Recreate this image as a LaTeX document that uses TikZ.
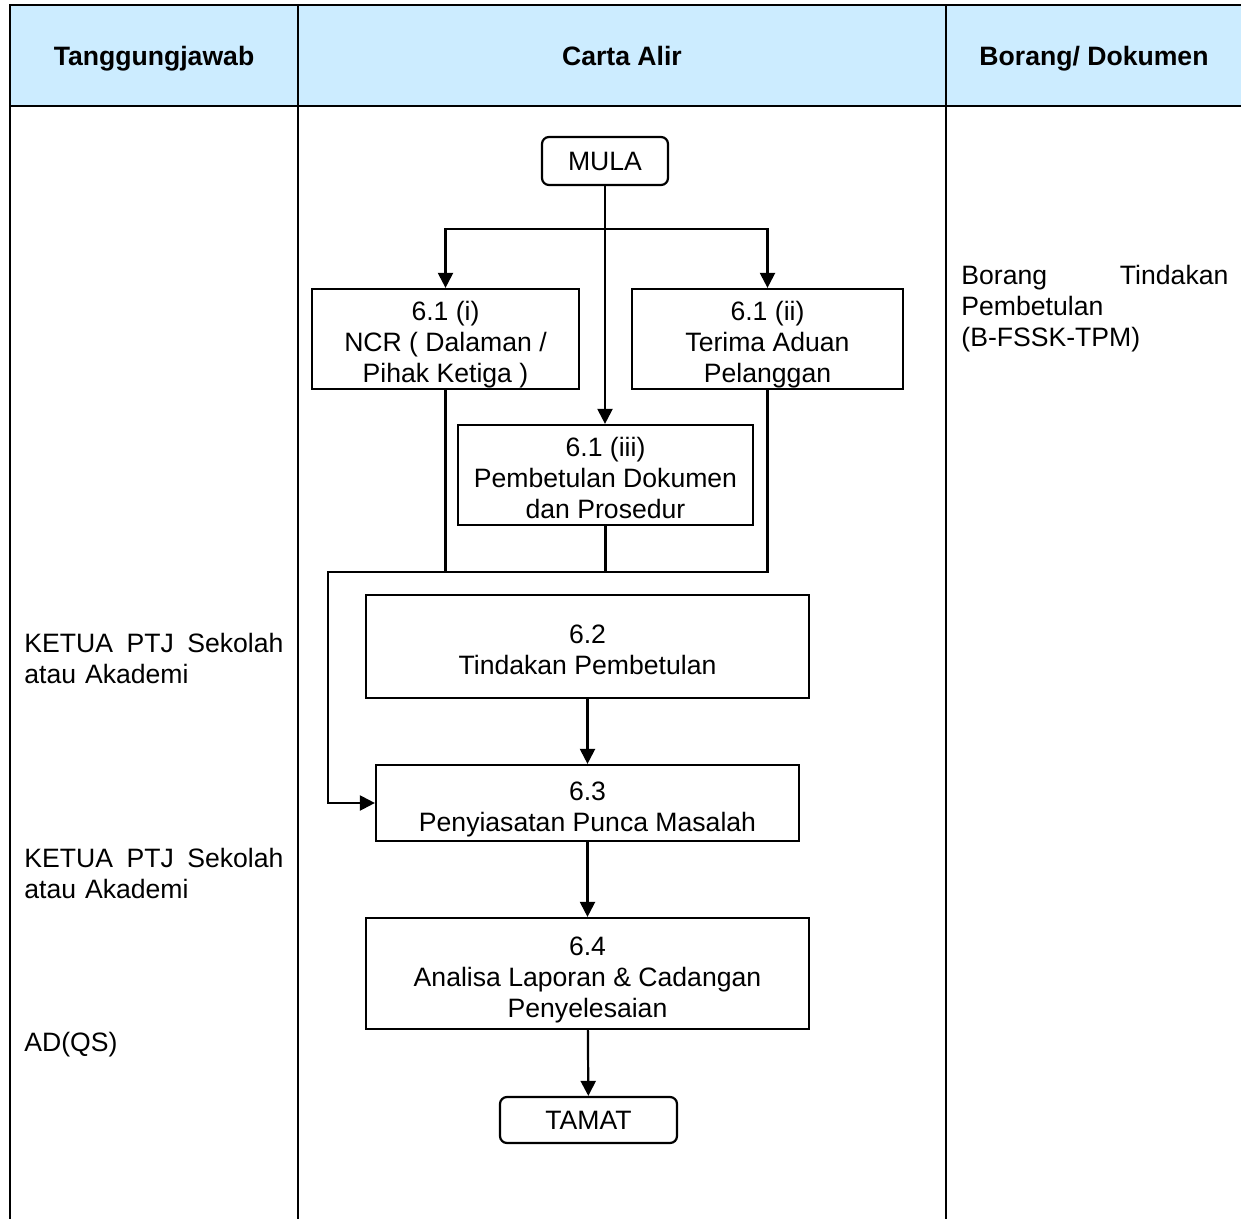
\documentclass[tikz,border=0pt]{standalone}
\usepackage{fontspec}
\setmainfont{Liberation Sans}
\usetikzlibrary{arrows.meta}
\definecolor{headblue}{HTML}{CCECFF}
% struts that fix the height of a box's first line and the depth of its last line
\newcommand\topstrut{\rule{0pt}{15.5pt}}
\newcommand\botstrut{\rule[-3pt]{0pt}{3pt}}
\begin{document}
\begin{tikzpicture}[x=0.5pt,y=-0.5pt,
  every node/.style={font=\fontsize{13.3}{15.5}\selectfont, inner sep=0pt},
  grid/.style={line width=1.4pt},
  box/.style={draw, line width=1.1pt, align=center},
  term/.style={draw, line width=1.1pt, align=center, rounded corners=3.5pt},
  arr/.style={line width=1.1pt, -{Triangle[width=7.5pt,length=7.5pt]}},
  link/.style={line width=1.1pt},
  cell/.style={align=left, anchor=base west},
  head/.style={font=\fontsize{13.3}{15.5}\selectfont\bfseries, anchor=base}]

\useasboundingbox (0,0) rectangle (1241,1219);

% table frame and header band
\fill[headblue] (10,5) rectangle (1241,106);
\draw[grid] (1241,5) -- (10,5) -- (10,1219);
\draw[grid] (10,106) -- (1241,106);
\draw[grid] (298,5) -- (298,1219);
\draw[grid] (946,5) -- (946,1219);

\node[head] (h1) at (154,65.5) {Tanggungjawab};
\node[head] (h2) at (622,65.5) {Carta Alir};
\node[head] (h3) at (1094,65.5) {Borang/ Dokumen};

% responsibility column
\node[cell, text width=129.5pt] (r1) at (24,652.5) {KETUA\hfill PTJ\hfill Sekolah\\atau Akademi};
\node[cell, text width=129.5pt] (r2) at (24,867.5) {KETUA\hfill PTJ\hfill Sekolah\\atau Akademi};
\node[cell] (r3) at (24,1051.5) {AD(QS)};

% form column
\node[cell, text width=133.5pt] (docs) at (961,284.5) {Borang\hfill Tindakan\\Pembetulan\\(B-FSSK-TPM)};

% flow chart
\node[term, minimum width=63pt, minimum height=24pt] (mula) at (605,161) {MULA};
\node[box, minimum width=133.5pt, minimum height=50pt] (ncr) at (445.5,339) {\topstrut 6.1 (i)\\NCR ( Dalaman /\\Pihak Ketiga )\botstrut};
\node[box, minimum width=135.5pt, minimum height=50pt] (terima) at (767.5,339) {\topstrut 6.1 (ii)\\Terima Aduan\\Pelanggan\botstrut};
\node[box, minimum width=147.5pt, minimum height=50pt] (iii) at (605.5,475) {\topstrut 6.1 (iii)\\Pembetulan Dokumen\\dan Prosedur\botstrut};
\node[box, minimum width=221.5pt, minimum height=51.5pt] (s62) at (587.5,646.5) {\topstrut 6.2\\Tindakan Pembetulan\botstrut};
\node[box, minimum width=211.5pt, minimum height=38pt] (s63) at (587.5,803) {\topstrut 6.3\\Penyiasatan Punca Masalah\botstrut};
\node[box, minimum width=221.5pt, minimum height=55.5pt] (s64) at (587.5,973.5) {\topstrut 6.4\\Analisa Laporan \& Cadangan\\Penyelesaian\botstrut};
\node[term, minimum width=88.5pt, minimum height=23pt] (tamat) at (588.5,1120) {TAMAT};

\coordinate (split) at (605,229);
\coordinate (merge) at (328,572);

\draw[arr] (mula.south) -- (mula.south |- iii.north);
\draw[arr] (split) -| (ncr.north);
\draw[arr] (split) -| (terima.north);
\draw[link] (ncr.south) -- (ncr.south |- merge);
\draw[link] (iii.south) -- (iii.south |- merge);
\draw[arr] (terima.south) |- (merge) |- (s63.west);
\draw[arr] (s62) -- (s63);
\draw[arr] (s63) -- (s64);
\draw[arr] (s64) -- (tamat);
\end{tikzpicture}
\end{document}
